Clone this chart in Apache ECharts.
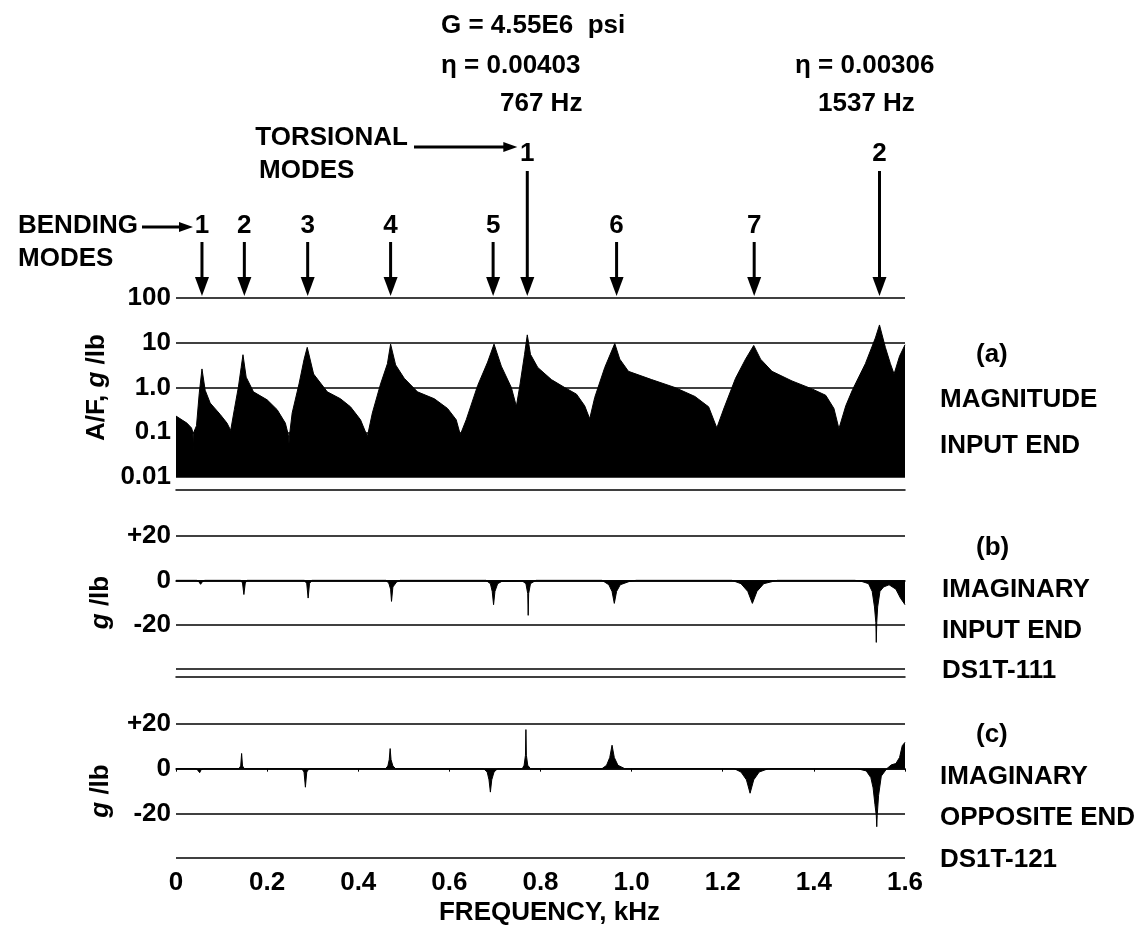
<!DOCTYPE html>
<html>
<head>
<meta charset="utf-8">
<script src="https://cdn.jsdelivr.net/npm/echarts@6/dist/echarts.min.js"></script>
<style>
  html, body { margin: 0; padding: 0; background: #fff; }
  #chart { width: 1148px; height: 939px; }
</style>
</head>
<body>
<div id="chart"></div>
<script>
// frequency in kHz
var magInput = [
  [0.000, 0.23], [0.024, 0.16], [0.034, 0.125], [0.037, 0.10], [0.038, 0.035], [0.039, 0.10],
  [0.045, 0.14], [0.051, 0.74], [0.057, 2.6], [0.064, 0.87], [0.075, 0.45], [0.097, 0.25],
  [0.112, 0.16], [0.120, 0.11], [0.128, 0.32], [0.137, 1.03], [0.143, 2.8], [0.147, 5.4],
  [0.154, 1.7], [0.170, 0.8], [0.200, 0.53], [0.222, 0.32], [0.240, 0.16], [0.247, 0.083],
  [0.248, 0.055], [0.249, 0.083], [0.255, 0.27], [0.270, 1.2], [0.281, 4.2], [0.288, 7.9],
  [0.302, 2.0], [0.332, 0.8], [0.361, 0.56], [0.383, 0.37], [0.405, 0.19], [0.420, 0.08],
  [0.431, 0.27], [0.449, 1.2], [0.464, 3.4], [0.471, 9.3], [0.482, 3.2], [0.501, 1.6],
  [0.530, 0.8], [0.567, 0.56], [0.596, 0.34], [0.615, 0.19], [0.624, 0.088], [0.637, 0.19],
  [0.662, 1.1], [0.684, 3.7], [0.698, 9.3], [0.714, 3.0], [0.736, 1.0], [0.747, 0.38],
  [0.754, 1.0], [0.765, 5.5], [0.771, 15], [0.778, 5.5], [0.794, 2.8], [0.824, 1.5],
  [0.853, 1.0], [0.879, 0.71], [0.897, 0.39], [0.908, 0.2], [0.919, 0.6], [0.941, 2.8],
  [0.963, 9.6], [0.974, 4.3], [0.993, 2.3], [1.044, 1.5], [1.095, 1.0], [1.139, 0.63],
  [1.169, 0.37], [1.187, 0.125], [1.202, 0.33], [1.228, 1.6], [1.250, 4.3], [1.268, 8.7],
  [1.283, 4.3], [1.308, 2.3], [1.352, 1.4], [1.396, 0.93], [1.426, 0.67], [1.444, 0.34],
  [1.455, 0.12], [1.470, 0.39], [1.485, 0.9], [1.513, 3.4], [1.535, 12.8], [1.544, 25],
  [1.557, 7.8], [1.568, 3.4], [1.576, 2.0], [1.588, 5.0], [1.600, 9.0]
];

var imagInput = [
  [0, 0], [0.045, 0], [0.050, -0.6], [0.054, -1.8], [0.058, -0.6], [0.063, 0],
  [0.142, 0], [0.146, -1.2], [0.149, -6.4], [0.152, -1.2], [0.156, 0],
  [0.282, 0], [0.287, -1.5], [0.290, -8.0], [0.293, -1.5], [0.298, 0],
  [0.460, 0], [0.467, -1.2], [0.471, -4], [0.473, -9.5], [0.476, -3], [0.484, -0.8], [0.492, 0],
  [0.680, 0], [0.690, -1.5], [0.694, -5], [0.697, -11], [0.700, -5], [0.706, -1.5], [0.715, -0.5],
  [0.760, -0.3], [0.768, -1.5], [0.772, -6], [0.773, -15.8], [0.774, -6], [0.778, -1.5], [0.790, 0],
  [0.935, 0], [0.950, -2], [0.957, -5], [0.962, -10.4], [0.967, -5], [0.975, -2], [0.995, -0.5], [1.010, 0],
  [1.220, 0], [1.240, -1.5], [1.255, -5], [1.265, -10.4], [1.275, -5], [1.290, -1.5], [1.320, 0],
  [1.490, 0], [1.505, -0.5], [1.520, -1.5], [1.528, -5], [1.533, -12], [1.536, -19], [1.537, -28],
  [1.538, -19], [1.540, -12], [1.545, -5], [1.553, -3], [1.565, -2], [1.580, -4], [1.590, -8], [1.600, -11]
];

var imagOpposite = [
  [0, 0], [0.045, 0], [0.049, -0.5], [0.052, -1.8], [0.055, -0.5], [0.060, 0],
  [0.138, 0], [0.142, 1.2], [0.144, 6.8], [0.146, 1.2], [0.150, 0],
  [0.276, 0], [0.281, -1.5], [0.284, -8.3], [0.287, -1.5], [0.292, 0],
  [0.460, 0], [0.465, 1.2], [0.468, 4], [0.470, 9], [0.472, 4], [0.476, 1.2], [0.482, 0],
  [0.675, 0], [0.683, -1.5], [0.687, -5], [0.690, -10.5], [0.693, -5], [0.698, -1.5], [0.706, 0],
  [0.760, 0], [0.764, 1.5], [0.767, 6], [0.768, 17.5], [0.769, 6], [0.772, 1.5], [0.778, 0],
  [0.935, 0], [0.945, 1.5], [0.952, 5], [0.957, 10.5], [0.962, 5], [0.970, 1.5], [0.985, 0],
  [1.225, 0], [1.240, -1.5], [1.252, -5], [1.260, -11], [1.268, -5], [1.280, -1.5], [1.300, 0],
  [1.495, 0], [1.515, -1], [1.525, -4], [1.530, -8.6], [1.534, -16], [1.537, -21], [1.538, -26],
  [1.539, -21], [1.542, -12], [1.548, -3.3], [1.560, 0], [1.570, 1.7], [1.580, 2.3], [1.588, 5],
  [1.594, 10.3], [1.600, 11.8]
];

// mode markers (kHz)
var bendingModes = [0.057, 0.150, 0.289, 0.471, 0.696, 0.967, 1.269];
var torsionalModes = [0.771, 1.544];

var logLabels = { '2': '100', '1': '10', '0': '1.0', '-1': '0.1', '-2': '0.01' };

var FONT = '"Liberation Sans", Arial, Helvetica, sans-serif';
var FS = 26;
var chart = echarts.init(document.getElementById('chart'));

var black = '#000';
var lineAxis = { show: true, lineStyle: { color: black, width: 1.5 } };
var split = { show: true, lineStyle: { color: black, width: 1.5 } };
var lblStyle = { color: black, fontSize: FS, fontWeight: 'bold', fontFamily: FONT, margin: 5 };
var nameStyle = { color: black, fontSize: FS, fontWeight: 'bold', fontFamily: FONT,
  rich: { i: { fontStyle: 'italic', fontWeight: 'bold', fontSize: FS, fontFamily: FONT, color: black } } };

function linY(grid) {
  return {
    gridIndex: grid, type: 'value', min: -40, max: 20, interval: 20,
    axisLine: { show: false }, axisTick: { show: false },
    splitLine: split,
    axisLabel: Object.assign({}, lblStyle, {
      formatter: function (v) { return v === -40 ? '' : (v > 0 ? '+' + v : String(v)); }
    }),
    name: '{i|g} /lb', nameLocation: 'middle', nameGap: 62, nameTextStyle: nameStyle
  };
}

var option = {
  backgroundColor: '#fff',
  animation: false,
  textStyle: { fontFamily: FONT },
  grid: [
    { left: 176, width: 729, top: 298, height: 179 },
    { left: 176, width: 729, top: 536, height: 133 },
    { left: 176, width: 729, top: 724, height: 134 }
  ],
  xAxis: [
    { gridIndex: 0, type: 'value', min: 0, max: 1.6, offset: 13, axisLine: lineAxis,
      axisTick: { show: false }, axisLabel: { show: false }, splitLine: { show: false } },
    { gridIndex: 1, type: 'value', min: 0, max: 1.6, position: 'bottom', axisLine: lineAxis,
      axisTick: { show: false }, axisLabel: { show: false }, splitLine: { show: false } },
    { gridIndex: 1, type: 'value', min: 0, max: 1.6, position: 'bottom', offset: 8, axisLine: lineAxis,
      axisTick: { show: false }, axisLabel: { show: false }, splitLine: { show: false } },
    { gridIndex: 2, type: 'value', min: 0, max: 1.6, interval: 0.2, axisLine: lineAxis,
      axisTick: { show: true, length: 3, lineStyle: { color: black } },
      splitLine: { show: false },
      axisLabel: Object.assign({}, lblStyle, { margin: 12,
        formatter: function (v) { return v === 0 ? '0' : v.toFixed(1); } }),
      name: 'FREQUENCY, kHz', nameLocation: 'middle', nameGap: 42,
      nameTextStyle: { color: black, fontSize: FS, fontWeight: 'bold', fontFamily: FONT, padding: [0, 0, 0, 18] } }
  ],
  yAxis: [
    { gridIndex: 0, type: 'log', logBase: 10, min: 0.01, max: 100,
      axisLine: { show: false }, axisTick: { show: false }, splitLine: split,
      axisLabel: Object.assign({}, lblStyle, {
        formatter: function (v) { return logLabels[String(Math.round(Math.log10(v)))] || ''; }
      }),
      name: 'A/F, {i|g} /lb', nameLocation: 'middle', nameGap: 62, nameTextStyle: nameStyle },
    linY(1),
    linY(2)
  ],
  series: [
    { type: 'line', xAxisIndex: 0, yAxisIndex: 0, data: magInput, showSymbol: false,
      lineStyle: { color: black, width: 1 }, areaStyle: { color: black, opacity: 1, origin: 'start' } },
    { type: 'line', xAxisIndex: 1, yAxisIndex: 1, data: imagInput, showSymbol: false,
      lineStyle: { color: black, width: 1 }, areaStyle: { color: black, opacity: 1 } },
    { type: 'line', xAxisIndex: 3, yAxisIndex: 2, data: imagOpposite, showSymbol: false,
      lineStyle: { color: black, width: 1 }, areaStyle: { color: black, opacity: 1 } }
  ]
};
chart.setOption(option);

// annotations: arrows placed through the frequency axis of panel (a)
function txt(s, x, y, align) {
  return { type: 'text', style: { text: s, x: x, y: y, fill: black,
    font: 'bold ' + FS + 'px ' + FONT, align: align || 'left', textAlign: align || 'left',
    verticalAlign: 'middle', textVerticalAlign: 'middle' } };
}
function downArrow(x, y0, y1) {
  return [
    { type: 'line', shape: { x1: x, y1: y0, x2: x, y2: y1 - 14 }, style: { stroke: black, lineWidth: 3 } },
    { type: 'polygon', shape: { points: [[x - 7, y1 - 19], [x + 7, y1 - 19], [x, y1]] }, style: { fill: black } }
  ];
}
function rightArrow(x0, x1, y) {
  return [
    { type: 'line', shape: { x1: x0, y1: y, x2: x1 - 10, y2: y }, style: { stroke: black, lineWidth: 3 } },
    { type: 'polygon', shape: { points: [[x1 - 14, y - 5], [x1 - 14, y + 5], [x1, y]] }, style: { fill: black } }
  ];
}

var top100 = chart.convertToPixel({ yAxisIndex: 0 }, 100);
var g = [];
bendingModes.forEach(function (f, i) {
  var x = chart.convertToPixel({ xAxisIndex: 0 }, f);
  g.push(txt(String(i + 1), x, top100 - 72, 'center'));
  g = g.concat(downArrow(x, top100 - 56, top100 - 2));
});
torsionalModes.forEach(function (f, i) {
  var x = chart.convertToPixel({ xAxisIndex: 0 }, f);
  g.push(txt(String(i + 1), x, top100 - 144, 'center'));
  g = g.concat(downArrow(x, top100 - 127, top100 - 2));
});
var xb1 = chart.convertToPixel({ xAxisIndex: 0 }, bendingModes[0]);
var xt1 = chart.convertToPixel({ xAxisIndex: 0 }, torsionalModes[0]);
g = g.concat(rightArrow(142, xb1 - 9, top100 - 71));
g = g.concat(rightArrow(414, xt1 - 10, top100 - 151));

g.push(txt('BENDING', 18, 226));
g.push(txt('MODES', 18, 259));
g.push(txt('TORSIONAL', 408, 138, 'right'));
g.push(txt('MODES', 259, 171));
g.push(txt('G = 4.55E6  psi', 441, 26));
g.push(txt('\u03b7 = 0.00403', 441, 66));
g.push(txt('767 Hz', 500, 104));
g.push(txt('\u03b7 = 0.00306', 795, 66));
g.push(txt('1537 Hz', 818, 104));

g.push(txt('(a)', 976, 355));
g.push(txt('MAGNITUDE', 940, 400));
g.push(txt('INPUT END', 940, 446));
g.push(txt('(b)', 976, 548));
g.push(txt('IMAGINARY', 942, 590));
g.push(txt('INPUT END', 942, 631));
g.push(txt('DS1T-111', 942, 671));
g.push(txt('(c)', 976, 735));
g.push(txt('IMAGINARY', 940, 777));
g.push(txt('OPPOSITE END', 940, 818));
g.push(txt('DS1T-121', 940, 860));

chart.setOption({ graphic: g });
</script>
</body>
</html>
